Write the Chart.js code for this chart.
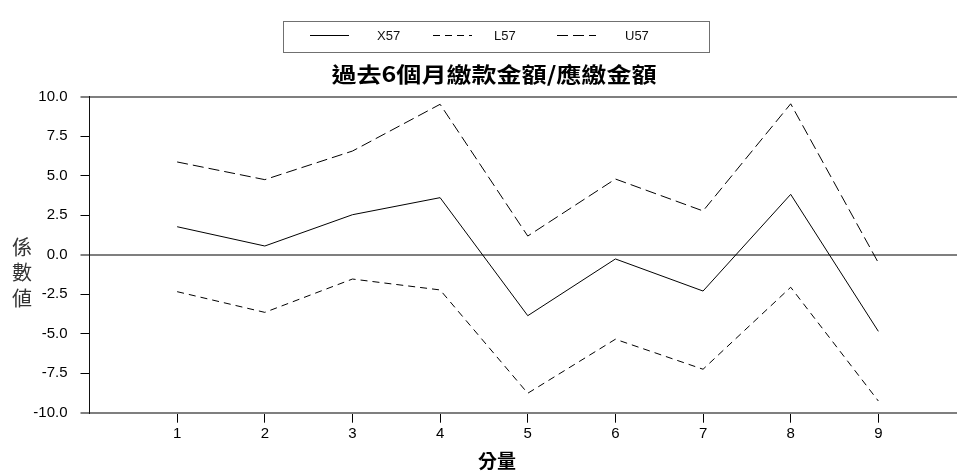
<!DOCTYPE html>
<html>
<head>
<meta charset="utf-8">
<script src="https://cdn.jsdelivr.net/npm/chart.js@4/dist/chart.umd.min.js"></script>
<style>
html, body { margin: 0; padding: 0; background: #fff; overflow: hidden; }
#wrap { width: 966px; height: 476px; }
</style>
</head>
<body>
<div id="wrap"><canvas id="chart" width="966" height="476"></canvas></div>
<script>
// data
const components = [1, 2, 3, 4, 5, 6, 7, 8, 9]
const x57 = [1.77, 0.55, 2.53, 3.61, -3.86, -0.27, -2.30, 3.82, -4.85]
const l57 = [-2.34, -3.65, -1.54, -2.23, -8.77, -5.35, -7.25, -2.06, -9.26]
const u57 = [5.87, 4.75, 6.56, 9.52, 1.18, 4.79, 2.77, 9.55, -0.51]
const seriesNames = ['X57', 'L57', 'U57']
const yTicks = [-10, -7.5, -5, -2.5, 0, 2.5, 5, 7.5, 10]
const chartTitle = '過去6個月繳款金額/應繳金額'
const yTitle = ['係', '數', '値']
const xTitle = '分量'

const latin = '"Liberation Sans", Arial, sans-serif'
const cjk = '"Noto Sans CJK TC", "Noto Sans CJK JP", sans-serif'
const gray = '#7f7f7f'

Chart.defaults.font.family = latin
Chart.defaults.color = '#000'

function points(values){
    return components.map((c, k) => ({x: c, y: values[k]}))
}

function isMajor(v){
    return v === 10 || v === 0 || v === -10
}

// legend box, title and axis titles, drawn like SPSS does
const decor = {
    id: 'decor',
    afterDraw(chart){
        const ctx = chart.ctx
        ctx.save()

        // legend
        ctx.strokeStyle = '#707070'
        ctx.lineWidth = 1
        ctx.strokeRect(283.5, 21.5, 426, 31)
        const lineX = [310, 433, 557]
        const textX = [377, 494, 625]
        ctx.font = '13px ' + latin
        ctx.textBaseline = 'middle'
        ctx.fillStyle = '#111'
        chart.data.datasets.forEach((ds, k) => {
            ctx.beginPath()
            ctx.setLineDash(ds.borderDash || [])
            ctx.strokeStyle = '#000'
            ctx.moveTo(lineX[k], 35.5)
            ctx.lineTo(lineX[k] + 39, 35.5)
            ctx.stroke()
            ctx.fillText(ds.label, textX[k], 36)
        })
        ctx.setLineDash([])

        // title, glyphs stretched sideways as in the original export
        ctx.font = 'bold 21px ' + cjk
        const w = ctx.measureText(chartTitle).width
        const sx = 325 / w
        ctx.fillStyle = '#000'
        ctx.save()
        ctx.translate(494, 74)
        ctx.scale(sx, 1)
        ctx.textAlign = 'center'
        ctx.fillText(chartTitle, 0, 0)
        ctx.restore()

        // y title, stacked characters
        ctx.font = '20px ' + cjk
        ctx.fillStyle = '#333'
        ctx.textAlign = 'center'
        yTitle.forEach((ch, k) => ctx.fillText(ch, 22, 247 + k * 25.5))

        // x title
        ctx.font = 'bold 19px ' + cjk
        ctx.fillStyle = '#000'
        ctx.fillText(xTitle, 497, 461)

        ctx.restore()
    }
}

const ctx = document.getElementById('chart').getContext('2d')
new Chart(ctx, {
    type: 'line',
    data: {
        datasets: [{
            label: seriesNames[0],
            data: points(x57),
            borderColor: '#000',
            borderWidth: 1
        }, {
            label: seriesNames[1],
            data: points(l57),
            borderColor: '#000',
            borderWidth: 1,
            borderDash: [7, 5]
        }, {
            label: seriesNames[2],
            data: points(u57),
            borderColor: '#000',
            borderWidth: 1,
            borderDash: [11, 5]
        }]
    },
    options: {
        responsive: false,
        animation: false,
        devicePixelRatio: 1,
        elements: {
            point: { radius: 0 },
            line: { tension: 0 }
        },
        layout: {
            padding: { top: 96.7, left: 0, right: 0, bottom: 0 }
        },
        plugins: {
            legend: { display: false },
            title: { display: false },
            tooltip: { enabled: false }
        },
        scales: {
            x: {
                type: 'linear',
                min: 0,
                max: 10,
                afterBuildTicks: scale => {
                    scale.ticks = components.map(c => ({value: c}))
                },
                afterFit: scale => { scale.height = 63.3 },
                border: { color: gray, width: 2 },
                grid: {
                    drawOnChartArea: false,
                    tickLength: 10,
                    tickColor: '#000',
                    lineWidth: 1
                },
                ticks: {
                    font: { size: 15 },
                    color: '#000',
                    padding: 2,
                    maxRotation: 0
                }
            },
            y: {
                min: -10,
                max: 10,
                afterBuildTicks: scale => {
                    scale.ticks = yTicks.map(v => ({value: v}))
                },
                afterFit: scale => { scale.width = 89.5 },
                border: { color: '#111', width: 1 },
                grid: {
                    color: c => isMajor(c.tick.value) ? gray : 'rgba(0,0,0,0)',
                    lineWidth: c => isMajor(c.tick.value) ? 2 : 1,
                    tickColor: c => isMajor(c.tick.value) ? gray : '#000',
                    tickWidth: c => isMajor(c.tick.value) ? 2 : 1,
                    tickLength: 9
                },
                ticks: {
                    font: { size: 15 },
                    color: '#000',
                    padding: 13,
                    callback: v => v.toFixed(1)
                }
            }
        }
    },
    plugins: [decor]
})
</script>
</body>
</html>
